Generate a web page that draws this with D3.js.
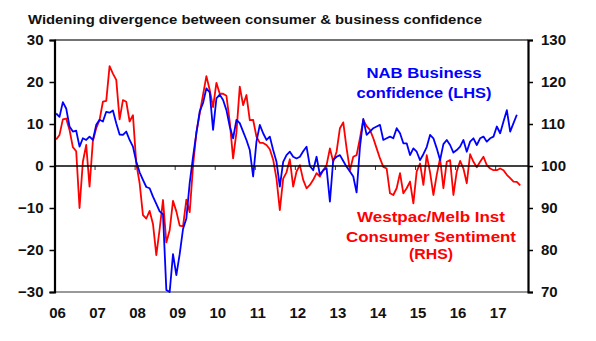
<!DOCTYPE html>
<html><head><meta charset="utf-8">
<script src="https://cdn.jsdelivr.net/npm/d3@7"></script>
<style>
body{margin:0;background:#fff}
svg{display:block}
text{font-family:"Liberation Sans",Arial,sans-serif;font-weight:bold}
</style>
</head><body>
<svg id="chart" width="596" height="341"></svg>
<script>
// ---- data (monthly, starting Jan 2006) ----
const startYear = 2006;
const yearTicks = [2006,2007,2008,2009,2010,2011,2012,2013,2014,2015,2016,2017];
const yearLabels = ["06","07","08","09","10","11","12","13","14","15","16","17"];
const leftTicks = [-30,-20,-10,0,10,20,30];
const rightTicks = [70,80,90,100,110,120,130];

// NAB Business confidence (LHS, net balance)
const nabBusinessConfidence = [
  12.5, 11.7, 15.2, 13.7, 9.4, 8.2, 8.4, 4.6, 6.6, 6.2, 7.0, 6.2,
  9.8, 11.0, 10.6, 12.9, 12.7, 13.2, 10.2, 7.5, 7.4, 8.2, 6.2, 4.6,
  1.0, -1.5, -3.3, -5.0, -5.3, -7.3, -9.0, -10.8, -11.5, -29.5, -30.0, -21.0,
  -26.0, -21.0, -15.0, -12.5, -4.0, 2.2, 7.8, 13.0, 15.0, 18.5, 17.5, 8.6,
  16.1, 17.0, 15.7, 13.3, 9.4, 6.6, 11.0, 10.2, 8.2, 6.2, 3.8, -2.5,
  5.8, 9.8, 7.8, 6.2, 7.0, 3.8, 1.0, -4.9, 1.0, 2.6, 3.4, 2.2,
  1.8, 2.2, 3.5, 4.6, 0.0, -1.0, 2.2, -2.1, -1.0, -0.5, -8.5, 1.5,
  2.2, 2.6, 1.2, -0.2, -1.3, -2.5, -6.3, 4.5, 11.2, 7.4, 8.2, 9.0,
  9.4, 9.8, 6.2, 6.6, 7.0, 6.6, 9.0, 7.8, 5.4, 5.4, 2.6, 4.2,
  3.4, 1.4, 2.8, 4.5, 7.4, 6.6, 4.2, 1.4, 5.2, 6.2, 5.0, 3.2,
  3.8, 4.6, 6.2, 3.4, 5.8, 6.6, 5.0, 6.6, 7.0, 5.8, 6.6, 7.0,
  9.4, 7.8, 10.6, 13.3, 8.2, 10.2, 12.2
];

// Westpac/Melbourne Institute Consumer Sentiment (RHS, index)
const westpacSentiment = [
  106.3, 107.4, 111.1, 111.3, 108.6, 104.5, 103.5, 90.0, 101.0, 105.0, 95.1, 106.0,
  109.0, 111.0, 115.3, 115.5, 123.8, 122.0, 120.5, 111.1, 115.7, 115.3, 110.6, 112.1,
  100.6, 95.9, 88.3, 87.5, 89.3, 86.2, 78.8, 85.0, 91.9, 81.8, 84.7, 91.7,
  89.2, 85.8, 85.6, 92.0, 89.0, 100.0, 108.0, 112.5, 117.0, 121.4, 118.1, 114.0,
  119.8, 117.2, 117.2, 116.7, 110.5, 101.8, 108.0, 118.9, 114.5, 116.9, 110.9, 111.0,
  107.0, 105.5, 105.5, 105.0, 104.0, 101.5, 97.0, 89.5, 97.0, 98.5, 101.6, 95.1,
  98.7, 100.2, 96.7, 94.7, 95.5, 96.7, 98.3, 97.5, 99.0, 100.2, 104.2, 101.0,
  103.4, 109.0, 110.4, 104.2, 99.0, 102.2, 102.6, 106.6, 111.0, 109.5, 108.6, 106.6,
  104.2, 101.8, 99.8, 99.4, 93.5, 93.1, 94.7, 98.3, 93.5, 94.7, 96.3, 91.1,
  98.7, 100.6, 95.5, 102.6, 98.5, 93.1, 97.9, 101.8, 94.7, 101.0, 101.4, 93.1,
  98.7, 101.2, 99.4, 95.9, 102.8, 101.0, 99.7, 101.0, 102.2, 100.2, 99.4, 99.0,
  99.0, 99.4, 99.0, 97.9, 97.1, 96.3, 96.2, 95.4
];

const title = "Widening divergence between consumer & business confidence";
const blueLabel = ["NAB Business", "confidence (LHS)"];
const redLabel = ["Westpac/Melb Inst", "Consumer Sentiment", "(RHS)"];

// ---- drawing ----
const svg = d3.select("#chart");
const L = 54.5, R = 528, T = 40, B = 292;

const x = d3.scaleLinear().domain([2006, 2017.82]).range([L, R]);
const yL = d3.scaleLinear().domain([-30, 30]).range([B, T]);
const yR = d3.scaleLinear().domain([70, 130]).range([B, T]);
const monthX = i => x(startYear + (i + 0.5) / 12);

// title
svg.append("text").attr("x", 28).attr("y", 24)
  .attr("font-size", 13.5).attr("fill", "#111")
  .attr("textLength", 454).attr("lengthAdjust", "spacingAndGlyphs")
  .text(title);

// frame: top and bottom borders
svg.append("line").attr("x1", L).attr("x2", R).attr("y1", T).attr("y2", T)
  .attr("stroke", "#444").attr("stroke-width", 1.5);
svg.append("line").attr("x1", L).attr("x2", R).attr("y1", B).attr("y2", B)
  .attr("stroke", "#999").attr("stroke-width", 2);

// series
const lineRed = d3.line().x((d, i) => monthX(i)).y(d => yR(d));
const lineBlue = d3.line().x((d, i) => monthX(i)).y(d => yL(d));

svg.append("path").datum(westpacSentiment)
  .attr("d", lineRed).attr("fill", "none")
  .attr("stroke", "#ff0000").attr("stroke-width", 1.8).attr("stroke-linejoin", "round");
svg.append("path").datum(nabBusinessConfidence)
  .attr("d", lineBlue).attr("fill", "none")
  .attr("stroke", "#0000ff").attr("stroke-width", 1.8).attr("stroke-linejoin", "round");

// zero line with year ticks
const zeroAxis = svg.append("g").attr("transform", `translate(0,${yL(0)})`)
  .call(d3.axisBottom(x).tickValues(yearTicks.slice(1)).tickSize(4).tickFormat(""));
zeroAxis.select(".domain").remove();
zeroAxis.selectAll(".tick line").attr("stroke", "#333").attr("stroke-width", 1);
svg.append("line").attr("x1", L).attr("x2", R).attr("y1", yL(0)).attr("y2", yL(0))
  .attr("stroke", "#000").attr("stroke-width", 1.5);

// year labels at bottom
const xLab = svg.append("g").attr("transform", `translate(2.5,${B})`)
  .call(d3.axisBottom(x).tickValues(yearTicks).tickSize(0).tickPadding(15.3)
    .tickFormat((d, i) => yearLabels[i]));
xLab.select(".domain").remove();
xLab.selectAll("text").attr("font-size", 15).attr("font-family", null).attr("fill", "#111");

// left axis
const axL = svg.append("g").attr("transform", `translate(${L},0)`)
  .call(d3.axisLeft(yL).tickValues(leftTicks).tickSize(5).tickPadding(6));
axL.select(".domain").attr("stroke", "#000").attr("stroke-width", 2.2);
axL.selectAll(".tick line").attr("stroke", "#000").attr("stroke-width", 1.5);
axL.selectAll("text").attr("font-size", 15).attr("font-family", null).attr("fill", "#111");

// right axis
const axR = svg.append("g").attr("transform", `translate(${R},0)`)
  .call(d3.axisRight(yR).tickValues(rightTicks).tickSize(5).tickPadding(8));
axR.select(".domain").attr("stroke", "#000").attr("stroke-width", 2.2);
axR.selectAll(".tick line").attr("stroke", "#000").attr("stroke-width", 1.5);
axR.selectAll("text").attr("font-size", 15).attr("font-family", null).attr("fill", "#111");

// series labels
const blueSpecs = [{y: 78, w: 115}, {y: 98, w: 135}];
blueLabel.forEach((t, i) => {
  svg.append("text").attr("x", 424).attr("y", blueSpecs[i].y)
    .attr("text-anchor", "middle").attr("font-size", 14).attr("fill", "#0000ff")
    .attr("textLength", blueSpecs[i].w).attr("lengthAdjust", "spacingAndGlyphs")
    .text(t);
});
const redSpecs = [{y: 221.5, w: 148}, {y: 241.5, w: 170}, {y: 259, w: 44}];
redLabel.forEach((t, i) => {
  svg.append("text").attr("x", 431).attr("y", redSpecs[i].y)
    .attr("text-anchor", "middle").attr("font-size", 14).attr("fill", "#ff0000")
    .attr("textLength", redSpecs[i].w).attr("lengthAdjust", "spacingAndGlyphs")
    .text(t);
});
</script>
</body></html>
